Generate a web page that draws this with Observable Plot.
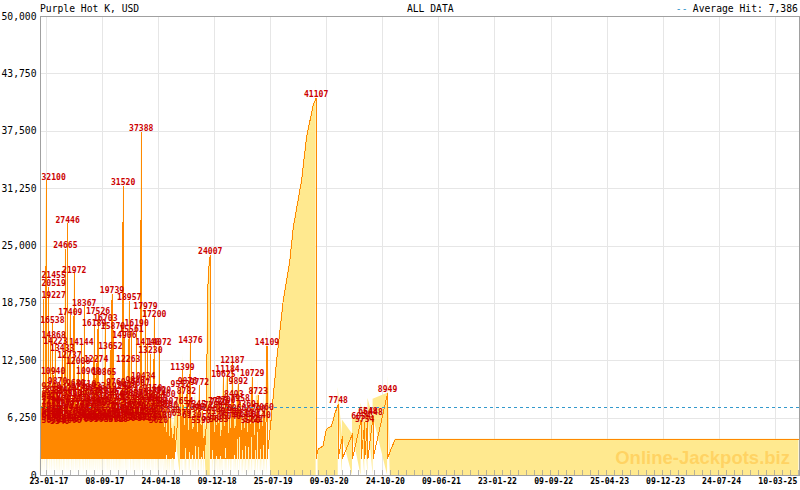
<!DOCTYPE html>
<html><head><meta charset="utf-8">
<script src="https://cdn.jsdelivr.net/npm/d3@7"></script>
<script src="https://cdn.jsdelivr.net/npm/@observablehq/plot@0.6"></script>
<style>
html,body{margin:0;padding:0;background:#fff;}
#chart{width:800px;height:490px;}
</style></head><body><div id="chart"></div>
<script>
const title = "Purple Hot K, USD";
const period = "ALL DATA";
const avgLabel = "Average Hit: 7,386";
const avgHit = 7386;
const seed = 1850;
const startDate = "2016-12-29";
const endDate = "2025-06-14";
const labelMin = 5500;
const leftEdgeDate = "2017-02-15";
const yTicks = [0, 6250, 12500, 18750, 25000, 31250, 37500, 43750, 50000];
const tickDates = ["2017-01-23","2017-09-08","2018-04-24","2018-12-09","2019-07-25","2020-03-09","2020-10-24",
  "2021-06-09","2022-01-23","2022-09-09","2023-04-25","2023-12-09","2024-07-24","2025-03-10"];
const minorPerMajor = 7;

const hitDates = [
  "2016-12-31","2017-01-03","2017-01-06","2017-01-09","2017-01-11","2017-01-14","2017-01-17","2017-01-19","2017-01-22","2017-01-25",
  "2017-01-28","2017-01-31","2017-02-03","2017-02-06","2017-02-08","2017-02-11","2017-02-13","2017-02-16","2017-02-19","2017-02-22",
  "2017-02-25","2017-02-28","2017-03-03","2017-03-06","2017-03-09","2017-03-12","2017-03-15","2017-03-18","2017-03-21","2017-03-24",
  "2017-03-28","2017-03-31","2017-04-03","2017-04-06","2017-04-10","2017-04-13","2017-04-16","2017-04-19","2017-04-22","2017-04-26",
  "2017-04-30","2017-05-03","2017-05-06","2017-05-09","2017-05-12","2017-05-16","2017-05-19","2017-05-22","2017-05-25","2017-05-28",
  "2017-06-01","2017-06-04","2017-06-07","2017-06-10","2017-06-14","2017-06-17","2017-06-20","2017-06-23","2017-06-26","2017-06-29",
  "2017-07-02","2017-07-05","2017-07-08","2017-07-12","2017-07-15","2017-07-18","2017-07-21","2017-07-24","2017-07-28","2017-07-31",
  "2017-08-03","2017-08-05","2017-08-08","2017-08-11","2017-08-13","2017-08-16","2017-08-19","2017-08-21","2017-08-24","2017-08-27",
  "2017-08-30","2017-09-02","2017-09-05","2017-09-08","2017-09-12","2017-09-15","2017-09-20","2017-09-23","2017-09-26","2017-09-29",
  "2017-10-02","2017-10-05","2017-10-10","2017-10-13","2017-10-17","2017-10-21","2017-10-24","2017-10-27","2017-10-30","2017-11-02",
  "2017-11-05","2017-11-08","2017-11-11","2017-11-14","2017-11-17","2017-11-20","2017-11-24","2017-11-28","2017-12-01","2017-12-04",
  "2017-12-06","2017-12-09","2017-12-12","2017-12-15","2017-12-18","2017-12-22","2017-12-26","2017-12-29","2018-01-01","2018-01-04",
  "2018-01-07","2018-01-10","2018-01-13","2018-01-16","2018-01-19","2018-01-22","2018-01-25","2018-01-28","2018-01-31","2018-02-03",
  "2018-02-06","2018-02-09","2018-02-13","2018-02-17","2018-02-21","2018-02-24","2018-02-27","2018-03-02","2018-03-05","2018-03-08",
  "2018-03-11","2018-03-14","2018-03-18","2018-03-22","2018-03-25","2018-03-28","2018-03-31","2018-04-03","2018-04-07","2018-04-10",
  "2018-04-14","2018-04-17","2018-04-21","2018-04-24","2018-04-28","2018-05-02","2018-05-06","2018-05-10","2018-05-15","2018-05-20",
  "2018-05-24","2018-05-29","2018-06-03","2018-06-08","2018-06-12","2018-06-18","2018-06-23","2018-06-28","2018-07-22","2018-07-27",
  "2018-07-31","2018-08-04","2018-08-09","2018-08-16","2018-08-20","2018-08-26","2018-09-01","2018-09-07","2018-09-12","2018-09-18",
  "2018-09-25","2018-10-01","2018-10-08","2018-10-14","2018-10-20","2018-10-27","2018-11-21","2018-11-27","2018-12-03","2018-12-09",
  "2018-12-14","2018-12-21","2018-12-25","2018-12-30","2019-01-05","2019-01-10","2019-01-14","2019-01-19","2019-01-24","2019-01-30",
  "2019-02-04","2019-02-07","2019-02-12","2019-02-15","2019-02-19","2019-02-25","2019-03-02","2019-03-08","2019-03-15","2019-03-23",
  "2019-03-29","2019-04-04","2019-04-10","2019-04-16","2019-04-22","2019-04-28","2019-05-04","2019-05-11","2019-05-15","2019-05-21",
  "2019-05-27","2019-06-04","2019-06-10","2019-06-16","2019-06-22","2019-06-28","2019-07-04","2019-07-10",
  "2020-01-26","2020-04-25","2020-05-12","2020-06-22","2020-07-27","2020-08-11","2020-08-24","2020-09-14","2020-11-12"
];
const hitValues = [
  6120, 7480, 5890, 8210, 19227, 6650, 9340, 21455, 32100, 7010,
  5630, 20519, 8470, 6240, 14868, 7790, 5980, 16538, 10940, 6410,
  8930, 14223, 7150, 5720, 9870, 6830, 8120, 5540, 7660, 6290,
  13433, 8840, 6050, 7340, 24665, 5810, 9120, 27446, 6570, 12737,
  17409, 7920, 5660, 8560, 6940, 21972, 7210, 9680, 6120, 8390,
  12008, 5870, 7530, 9240, 14144, 6480, 8010, 5760, 18367, 7380,
  6630, 9510, 5940, 10968, 7070, 8660, 6303, 7840, 6010, 9050,
  6760, 16189, 5830, 8250, 12274, 7460, 6190, 17526, 8780, 5990,
  7610, 9330, 6370, 8040, 5680, 10865, 16703, 7270, 6540, 8910,
  5910, 7730, 13652, 6280, 19739, 15870, 5702, 8470, 6920, 9760,
  6140, 7990, 5760, 8620, 7150, 6480, 9290, 7040, 31520, 6360,
  14906, 8130, 5850, 7580, 9420, 12263, 18957, 6710, 8290, 15561,
  7430, 5960, 8840, 6620, 9980, 7170, 16190, 6050, 8570, 7290,
  5890, 9607, 37388, 7860, 10434, 6430, 8110, 17979, 7020, 5780,
  14140, 8380, 6590, 13230, 7710, 5940, 9150, 6860, 17200, 7420,
  8770, 6150, 7980, 5620, 14072, 7340, 8920, 6180, 7720, 5240,
  8460, 4870, 7290, 3960, 6680, 5120, 4430, 5310, 9552, 6379,
  11399, 7654, 5480, 8782, 9876, 4920, 14376, 6130, 5270, 7040,
  7345, 4680, 9772, 5590, 6920, 4310, 24007, 5960, 7280, 4740,
  6540, 7726, 5683, 7526, 4960, 6870, 10625, 5330, 7790, 11184,
  4580, 6449, 5140, 6040, 12187, 8493, 5410, 6960, 9892, 7958,
  4870, 6240, 5130, 7369, 4660, 6330, 5560, 10729, 5722, 4410,
  6790, 8723, 4980, 6140, 5380, 7060, 4520, 14109,
  41107, 7748, 4200, 4530, 6054, 5754, 6548, 6448, 8949
];
// jackpot readings between hits, where the climb is visible
const rampDates = ["2018-11-04","2018-11-11","2018-11-17",
  "2019-07-25","2019-08-18","2019-09-14","2019-10-11","2019-10-25","2019-11-28","2019-12-18","2020-01-14",
  "2020-02-03","2020-02-23","2020-03-08","2020-03-29","2020-04-11",
  "2020-11-23","2020-12-13","2025-06-14"];
const rampValues = [5200, 20500, 23400,
  5618, 12492, 19038, 23402, 27035, 32162, 36853, 40312,
  2860, 3218, 5040, 5400, 6710,
  2670, 3950, 3950];

const mono = "DejaVu Sans Mono, monospace";
const day = 864e5;

const hits = hitDates.map((d, i) => ({date: new Date(d), value: hitValues[i]}));
const rows = [{date: new Date(startDate), value: seed}];
hits.forEach(h => { rows.push({date: h.date, value: h.value}); rows.push({date: h.date, value: seed}); });
rampDates.forEach((d, i) => rows.push({date: new Date(d), value: rampValues[i]}));
rows.sort((a, b) => a.date - b.date);

const labeled = hits.filter(h => h.value >= labelMin);
const leftCut = new Date(leftEdgeDate);
const leftLabels = labeled.filter(h => h.date < leftCut);
const midLabels = labeled.filter(h => h.date >= leftCut);

const majors = tickDates.map(d => new Date(d));
const stepDays = (majors[1] - majors[0]) / day / minorPerMajor;
const xEnd = new Date(endDate + "T10:00Z");
const minors = d3.range(0, 200).map(i => new Date(+majors[0] + i * stepDays * day)).filter(d => d <= xEnd);

const chart = Plot.plot({
  width: 800, height: 490,
  marginLeft: 40, marginRight: 1.5, marginTop: 16, marginBottom: 15,
  style: {fontFamily: mono, fontSize: "10px", color: "#000", background: "#fff"},
  x: {type: "utc", domain: [new Date(startDate + "T14:00Z"), xEnd]},
  y: {domain: [0, 50000]},
  marks: [
    Plot.gridY(yTicks, {stroke: "#e6e6e6", strokeOpacity: 1, shapeRendering: "crispEdges"}),
    Plot.gridX(majors, {stroke: "#e6e6e6", strokeOpacity: 1, shapeRendering: "crispEdges"}),
    Plot.areaY(rows, {x: "date", y: "value", fill: "#ffe98f", curve: "linear"}),
    Plot.text(["Online-Jackpots.biz"], {frameAnchor: "bottom-right", textAnchor: "end", lineAnchor: "bottom",
      dx: -9, dy: -11.5, fontSize: 18.5, fontWeight: "bold", fontFamily: "Liberation Sans, Arial, sans-serif",
      fill: "#ffcc55", fillOpacity: 0.75}),
    Plot.lineY(rows, {x: "date", y: "value", stroke: "#ff8800", strokeWidth: 1, curve: "linear", shapeRendering: "crispEdges"}),
    Plot.ruleX(minors, {stroke: "#999", strokeOpacity: 0.7, insetTop: 454, shapeRendering: "crispEdges"}),
    Plot.ruleY([avgHit], {stroke: "#3399cc", strokeDasharray: "3,3", shapeRendering: "crispEdges"}),
    Plot.text(midLabels, {x: "date", y: "value", text: d => String(d.value), lineAnchor: "bottom", dy: -1,
      fill: "#cc0000", fontSize: 8.1, fontWeight: "bold", fontFamily: mono}),
    Plot.text(leftLabels, {frameAnchor: "left", y: "value", text: d => String(d.value), textAnchor: "start",
      lineAnchor: "bottom", dx: 1, dy: -1, fill: "#cc0000", fontSize: 8.1, fontWeight: "bold", fontFamily: mono}),
    Plot.frame({stroke: "#a0a0a0", shapeRendering: "crispEdges"}),
    Plot.axisY(yTicks, {tickSize: 0, tickPadding: 4, tickFormat: d3.format(","), fontSize: 9.7, fontFamily: mono, label: null}),
    Plot.axisX(majors, {tickSize: 0, tickPadding: 3, tickFormat: d3.utcFormat("%d-%m-%y"), fontSize: 8.1, fontWeight: "bold", fontFamily: mono, label: null, dx: 2.5}),
    Plot.text([title], {frameAnchor: "top-left", textAnchor: "start", lineAnchor: "bottom", dx: -0.5, dy: -5, fontSize: 9.7, fontFamily: mono, fill: "#000"}),
    Plot.text([period], {frameAnchor: "top", textAnchor: "middle", lineAnchor: "bottom", dx: 10.5, dy: -5, fontSize: 9.7, fontFamily: mono, fill: "#000"}),
    Plot.text([avgLabel], {frameAnchor: "top-right", textAnchor: "end", lineAnchor: "bottom", dx: -1.2, dy: -5, fontSize: 9.7, fontFamily: mono, fill: "#000"}),
    Plot.text(["--"], {frameAnchor: "top-right", textAnchor: "end", lineAnchor: "bottom", dx: -111.5, dy: -5, fontSize: 9.7, fontFamily: mono, fill: "#3399cc"})
  ]
});
document.getElementById("chart").appendChild(chart);
</script></body></html>
